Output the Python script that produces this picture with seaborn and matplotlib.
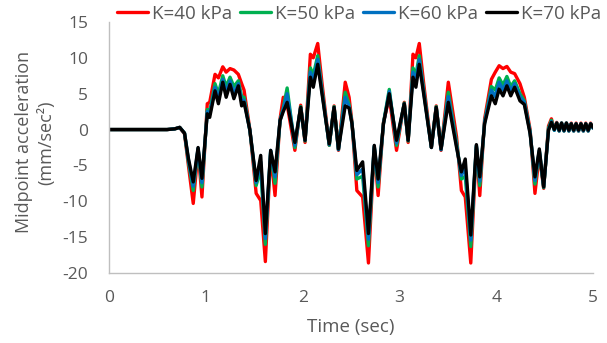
import pandas as pd
import matplotlib
matplotlib.use("Agg")
import matplotlib.pyplot as plt
import seaborn as sns

# time (sec)
t = [0.0, 0.6, 0.68, 0.73, 0.78, 0.82, 0.87, 0.92, 0.96, 1.015,
     1.04, 1.095, 1.13, 1.175, 1.21, 1.25, 1.29, 1.336, 1.37, 1.395,
     1.455, 1.52, 1.567, 1.615, 1.67, 1.715, 1.767, 1.80, 1.84, 1.92,
     1.98, 2.025, 2.08, 2.11, 2.156, 2.20, 2.275, 2.325, 2.37, 2.44,
     2.48, 2.51, 2.56, 2.62, 2.68, 2.74, 2.78, 2.835, 2.895, 2.97,
     3.05, 3.09, 3.14, 3.17, 3.205, 3.25, 3.33, 3.38, 3.43, 3.505,
     3.59, 3.64, 3.68, 3.737, 3.795, 3.83, 3.88, 3.95, 3.99, 4.03,
     4.07, 4.11, 4.15, 4.19, 4.245, 4.29, 4.35, 4.40, 4.445, 4.49,
     4.54, 4.57, 4.60, 4.625, 4.65, 4.675, 4.70, 4.725, 4.75, 4.775,
     4.80, 4.825, 4.85, 4.875, 4.90, 4.925, 4.95, 4.975, 5.0]

# midpoint acceleration (mm/sec^2) for each stiffness
k40 = [0, 0, 0.1, 0.3, -0.6, -5.0, -10.3, -3.0, -9.4, 3.6,
       3.8, 7.7, 7.2, 8.75, 8.0, 8.5, 8.3, 7.7, 6.4, 5.5,
       0.0, -8.9, -9.9, -18.4, -3.3, -9.2, 1.5, 4.5, 3.5, -2.9,
       3.4, -1.8, 10.5, 10.0, 12.0, 6.5, -2.2, 3.3, -2.9, 6.6,
       4.5, 1.0, -8.5, -9.4, -18.6, -2.6, -9.2, 1.0, 4.5, -2.9,
       3.8, -1.8, 10.5, 10.0, 12.0, 6.5, -2.5, 3.3, -2.9, 6.6,
       -1.0, -8.5, -9.4, -18.6, -2.5, -9.2, 1.5, 7.0, 8.0, 8.9,
       8.5, 8.8, 8.0, 7.8, 6.4, 4.5, 0.0, -8.9, -3.5, -8.2,
       0.5, 1.5, 0.0, 1.0, -0.2, 0.9, -0.2, 0.9, -0.2, 0.9,
       -0.2, 0.9, -0.2, 0.9, -0.2, 0.9, -0.2, 0.9, 0.2]

k50 = [0, 0, 0.1, 0.3, -0.5, -4.5, -8.5, -2.7, -8.0, 2.8,
       2.5, 6.4, 5.0, 7.5, 6.0, 7.3, 6.0, 6.8, 4.6, 4.5,
       -0.1, -7.8, -5.5, -16.0, -3.0, -7.5, 1.3, 3.0, 5.8, -2.5,
       3.2, -1.6, 8.6, 7.6, 10.3, 5.6, -2.2, 3.2, -2.8, 5.2,
       3.5, 0.9, -6.9, -6.5, -16.2, -2.4, -8.0, 0.9, 5.6, -2.2,
       3.7, -1.6, 8.6, 7.6, 10.3, 5.6, -2.5, 3.2, -2.8, 5.2,
       -1.8, -6.9, -6.5, -16.3, -2.3, -7.8, 1.1, 6.0, 5.5, 7.2,
       6.2, 7.4, 6.0, 6.8, 5.0, 4.0, -0.3, -7.6, -3.0, -8.1,
       0.2, 1.3, -0.1, 0.9, -0.2, 0.9, -0.2, 0.9, -0.2, 0.8,
       -0.2, 0.8, -0.2, 0.8, -0.2, 0.8, -0.2, 0.8, 0.2]

k60 = [0, 0, 0.1, 0.3, -0.5, -4.2, -7.9, -2.6, -7.4, 2.5,
       2.1, 5.9, 4.3, 7.0, 5.2, 6.8, 5.1, 6.4, 4.0, 4.1,
       -0.1, -7.4, -4.5, -15.2, -2.9, -6.6, 1.3, 2.8, 5.0, -2.2,
       3.1, -1.5, 8.0, 6.8, 9.8, 5.3, -2.1, 3.1, -2.8, 4.5,
       3.2, 0.8, -6.3, -5.5, -15.3, -2.3, -7.4, 0.8, 5.3, -1.9,
       3.6, -1.5, 8.0, 6.8, 9.8, 5.3, -2.5, 3.1, -2.8, 4.6,
       -2.2, -6.4, -5.3, -15.4, -2.2, -7.2, 1.0, 5.5, 4.6, 6.6,
       5.5, 6.8, 5.4, 6.4, 4.6, 3.8, -0.4, -7.1, -2.9, -8.0,
       0.0, 1.1, -0.1, 0.9, -0.2, 0.9, -0.2, 0.9, -0.2, 0.8,
       -0.2, 0.8, -0.2, 0.8, -0.2, 0.8, -0.2, 0.8, 0.2]

k70 = [0, 0, 0.1, 0.3, -0.5, -4.0, -7.3, -2.5, -6.8, 2.2,
       1.7, 5.4, 3.6, 6.6, 4.5, 6.3, 4.3, 6.1, 3.3, 3.8,
       -0.1, -7.1, -3.6, -14.5, -2.9, -5.9, 1.25, 2.5, 3.8, -1.8,
       3.1, -1.5, 7.3, 5.9, 9.1, 5.0, -2.0, 3.1, -2.7, 3.3,
       3.0, 0.8, -5.7, -4.5, -14.5, -2.2, -6.9, 0.8, 5.0, -1.5,
       3.6, -1.5, 7.3, 5.9, 9.1, 5.0, -2.5, 3.1, -2.7, 3.8,
       -2.5, -5.9, -4.1, -14.7, -2.1, -6.6, 0.8, 4.7, 3.6, 5.65,
       4.7, 6.1, 4.7, 5.9, 4.0, 3.5, -0.6, -6.6, -2.7, -8.0,
       -0.1, 1.0, 0.0, 0.9, -0.1, 0.9, -0.1, 0.9, -0.1, 0.8,
       -0.1, 0.8, -0.1, 0.8, -0.1, 0.8, -0.1, 0.8, 0.3]

labels = ["K=40 kPa", "K=50 kPa", "K=60 kPa", "K=70 kPa"]
colors = ["#FF0000", "#00B050", "#0070C0", "#000000"]

frames = []
for lab, vals in zip(labels, [k40, k50, k60, k70]):
    frames.append(pd.DataFrame({"Time": t, "Acc": vals, "K": lab}))
df = pd.concat(frames, ignore_index=True)

sns.set_style("white")
plt.rcParams["font.family"] = ["Open Sans", "DejaVu Sans"]
plt.rcParams["axes.unicode_minus"] = False
gray = "#595959"

fig = plt.figure(figsize=(6.07, 3.43), dpi=100)
ax = fig.add_axes([0.1796, 0.204, 0.7974, 0.732])

sns.lineplot(data=df, x="Time", y="Acc", hue="K", hue_order=labels,
             palette=colors, estimator=None, linewidth=2.4, ax=ax)
for ln in ax.lines:
    ln.set_solid_joinstyle("round")

ax.set_xlim(0, 5)
ax.set_ylim(-20, 15)
ax.set_xticks(range(0, 6))
ax.set_yticks(range(-20, 16, 5))

for s in ["top", "right"]:
    ax.spines[s].set_visible(False)
for s in ["left", "bottom"]:
    ax.spines[s].set_color("#BFBFBF")
    ax.spines[s].set_linewidth(1.0)

ax.tick_params(axis="both", direction="in", length=5, color="#BFBFBF",
               labelcolor=gray, labelsize=12.5)
ax.tick_params(axis="y", pad=15)
ax.tick_params(axis="x", pad=12)

ax.set_xlabel("Time (sec)", fontsize=13.5, color=gray, labelpad=9)
ax.set_ylabel("")
fig.text(0.058, 0.585, "Midpoint acceleration\n(mm/sec²)", rotation=90,
         ha="center", va="center", multialignment="center",
         fontsize=13, color=gray, linespacing=1.3)

ax.legend(loc="center", bbox_to_anchor=(0.591, 0.96),
          bbox_transform=fig.transFigure, ncol=4, frameon=False,
          fontsize=13.5, handlelength=1.65, handletextpad=0.21,
          columnspacing=0.43, labelcolor=gray, borderpad=0)

fig.savefig("out.png", dpi=100)
